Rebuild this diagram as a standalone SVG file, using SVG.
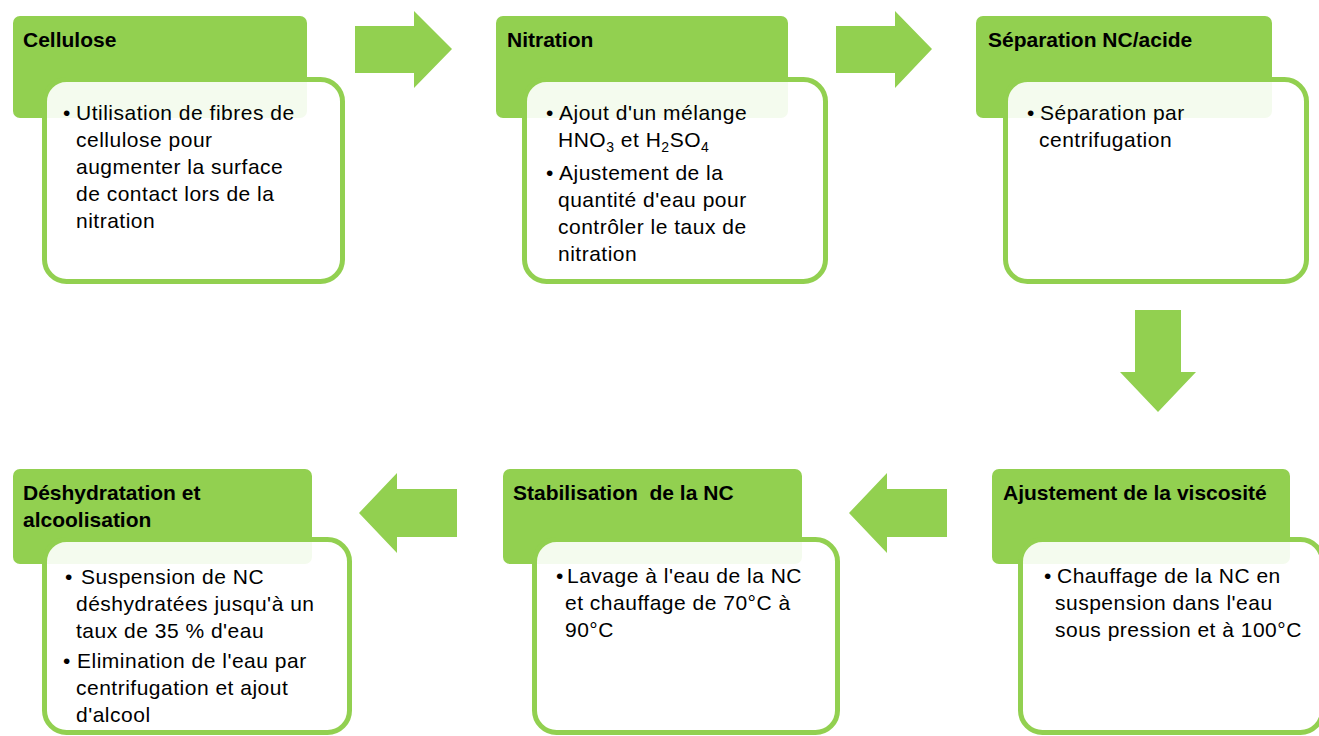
<svg xmlns="http://www.w3.org/2000/svg" width="1319" height="736" viewBox="0 0 1319 736">
<style>
.hdr{fill:#92D050}
.box{fill:#ffffff;fill-opacity:0.9;stroke:#92D050;stroke-width:5}
.arr{fill:#92D050}
.t{font-family:"Liberation Sans",Arial,sans-serif;font-size:21px;font-weight:bold;fill:#000;white-space:pre}
.b{font-family:"Liberation Sans",Arial,sans-serif;font-size:21px;letter-spacing:0.5px;fill:#000;white-space:pre}
.sub{font-size:14px}
</style>
<rect width="1319" height="736" fill="#ffffff"/>
<g id="connectors">
<polygon class="arr" points="355,26 414,26 414,11 452,49 414,88 414,73 355,73"/>
<polygon class="arr" points="836,26 895,26 895,11 932,49 895,88 895,73 836,73"/>
<polygon class="arr" points="1135,310 1181,310 1181,372 1196,372 1158,412 1120,372 1135,372"/>
<polygon class="arr" points="947,489 887,489 887,473 849,513 887,553 887,537 947,537"/>
<polygon class="arr" points="457,489 397,489 397,473 359,513 397,553 397,537 457,537"/>
</g>
<g id="node-cellulose">
<rect class="hdr" x="13" y="16" width="294" height="102" rx="7"/>
<rect class="box" x="44.5" y="79.5" width="298" height="202" rx="22"/>
<text class="t" x="23" y="47">Cellulose</text>
<text class="b" x="63" y="120">•</text>
<text class="b" x="76" y="120">Utilisation de fibres de</text>
<text class="b" x="76" y="147">cellulose pour</text>
<text class="b" x="76" y="174">augmenter la surface</text>
<text class="b" x="76" y="201">de contact lors de la</text>
<text class="b" x="76" y="228">nitration</text>
</g>
<g id="node-nitration">
<rect class="hdr" x="496" y="16" width="292" height="102" rx="7"/>
<rect class="box" x="524.5" y="79.5" width="301" height="202" rx="22"/>
<text class="t" x="507" y="47">Nitration</text>
<text class="b" x="546" y="120">•</text>
<text class="b" x="559" y="120">Ajout d'un mélange</text>
<text class="b" x="558" y="147">HNO<tspan class="sub" dy="5">3</tspan><tspan dy="-5"> et H</tspan><tspan class="sub" dy="5">2</tspan><tspan dy="-5">SO</tspan><tspan class="sub" dy="5">4</tspan></text>
<text class="b" x="546" y="180">•</text>
<text class="b" x="559" y="180">Ajustement de la</text>
<text class="b" x="558" y="207">quantité d'eau pour</text>
<text class="b" x="558" y="234">contrôler le taux de</text>
<text class="b" x="558" y="261">nitration</text>
</g>
<g id="node-separation">
<rect class="hdr" x="976" y="16" width="296" height="102" rx="7"/>
<rect class="box" x="1005.5" y="79.5" width="301" height="202" rx="22"/>
<text class="t" x="988" y="47">Séparation NC/acide</text>
<text class="b" x="1027" y="120">•</text>
<text class="b" x="1040" y="120">Séparation par</text>
<text class="b" x="1039" y="147">centrifugation</text>
</g>
<g id="node-viscosite">
<rect class="hdr" x="992" y="469" width="298" height="95" rx="7"/>
<rect class="box" x="1020.5" y="539.5" width="302" height="193" rx="22"/>
<text class="t" x="1003" y="500">Ajustement de la viscosité</text>
<text class="b" x="1044" y="583">•</text>
<text class="b" x="1057" y="583">Chauffage de la NC en</text>
<text class="b" x="1055" y="610">suspension dans l'eau</text>
<text class="b" x="1055" y="637">sous pression et à 100°C</text>
</g>
<g id="node-stabilisation">
<rect class="hdr" x="503" y="469" width="299" height="95" rx="7"/>
<rect class="box" x="534.5" y="539.5" width="303" height="193" rx="22"/>
<text class="t" x="513" y="500">Stabilisation  de la NC</text>
<text class="b" x="556" y="583">•</text>
<text class="b" x="567" y="583">Lavage à l'eau de la NC</text>
<text class="b" x="565" y="610">et chauffage de 70°C à</text>
<text class="b" x="565" y="637">90°C</text>
</g>
<g id="node-deshydratation">
<rect class="hdr" x="13" y="469" width="299" height="95" rx="7"/>
<rect class="box" x="44.5" y="539.5" width="305" height="193" rx="22"/>
<text class="t" x="23" y="500">Déshydratation et</text>
<text class="t" x="23" y="527">alcoolisation</text>
<text class="b" x="65" y="584">•</text>
<text class="b" x="81" y="584">Suspension de NC</text>
<text class="b" x="76" y="611">déshydratées jusqu'à un</text>
<text class="b" x="76" y="638">taux de 35 % d'eau</text>
<text class="b" x="63" y="668">•</text>
<text class="b" x="77" y="668">Elimination de l'eau par</text>
<text class="b" x="76" y="695">centrifugation et ajout</text>
<text class="b" x="76" y="722">d'alcool</text>
</g>
</svg>
